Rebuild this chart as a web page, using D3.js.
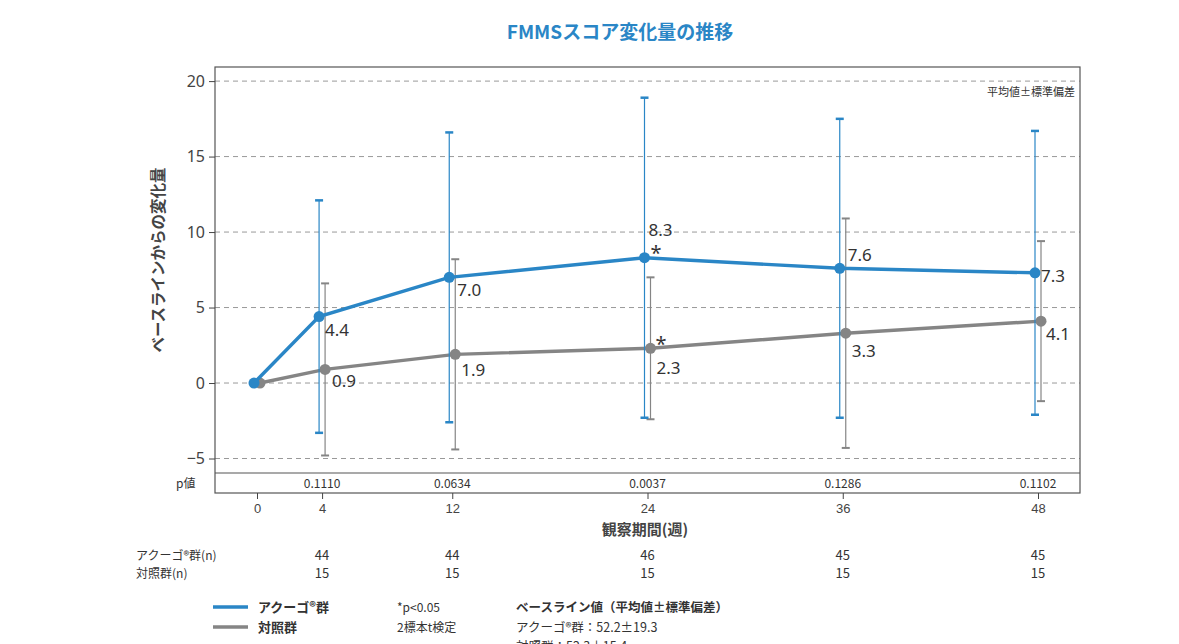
<!DOCTYPE html>
<html>
<head>
<meta charset="utf-8">
<script src="https://cdn.jsdelivr.net/npm/d3@7"></script>
<style>
  html, body { margin: 0; padding: 0; background: #fff; }
  svg { display: block; font-family: "Noto Sans CJK JP", "Noto Sans", sans-serif; }
</style>
</head>
<body>
<svg id="chart" width="1179" height="644"></svg>
<script>
// ---- data ----
const weeks = [0, 4, 12, 24, 36, 48];
const treatMean = [0, 4.4, 7.0, 8.3, 7.6, 7.3];
const treatSD   = [0, 7.7, 9.6, 10.6, 9.9, 9.4];
const ctrlMean  = [0, 0.9, 1.9, 2.3, 3.3, 4.1];
const ctrlSD    = [0, 5.7, 6.3, 4.7, 7.6, 5.3];
const pValues   = ["", "0.1110", "0.0634", "0.0037", "0.1286", "0.1102"];
const treatN    = ["", "44", "44", "46", "45", "45"];
const ctrlN     = ["", "15", "15", "15", "15", "15"];
const treatStar = [false, false, false, true, false, false];
const ctrlStar  = [false, false, false, true, false, false];
const yTicks    = [-5, 0, 5, 10, 15, 20];
const xTicks    = [0, 4, 12, 24, 36, 48];

const BLUE = "#2a86c6", GRAY = "#858585", TXT = "#333";

const svg = d3.select("#chart");
const box = {left: 215, right: 1080, top: 67, bottom: 473, pBottom: 493};

const x = d3.scaleLinear().domain([0, 48]).range([257, 1038]);
const y = d3.scaleLinear().domain([-6, 21]).range([473.6, 66]);
const off = {treat: -3, ctrl: 3};

// title
svg.append("text").attr("x", 620).attr("y", 39).attr("text-anchor", "middle")
  .attr("font-size", 19).attr("font-weight", "bold").attr("fill", "#2a86c6")
  .text("FMMSスコア変化量の推移");

// gridlines
svg.append("g").selectAll("line").data(yTicks).join("line")
  .attr("x1", box.left).attr("x2", box.right)
  .attr("y1", d => y(d)).attr("y2", d => y(d))
  .attr("stroke", "#999").attr("stroke-width", 1).attr("stroke-dasharray", "5,4");

// frame
svg.append("rect").attr("x", box.left).attr("y", box.top)
  .attr("width", box.right - box.left).attr("height", box.pBottom - box.top)
  .attr("fill", "none").attr("stroke", "#555").attr("stroke-width", 1.2);
svg.append("line").attr("x1", box.left).attr("x2", box.right)
  .attr("y1", box.bottom).attr("y2", box.bottom).attr("stroke", "#555").attr("stroke-width", 1.2);

// y axis
const yAxis = d3.axisLeft(y).tickValues(yTicks).tickSize(6).tickPadding(4);
const yg = svg.append("g").attr("transform", `translate(${box.left},0)`).call(yAxis);
yg.select(".domain").remove();
yg.selectAll("line").attr("stroke", "#444");
yg.selectAll("text").attr("font-size", 16).attr("fill", "#444").attr("font-family", "'Noto Sans', sans-serif");

// y label
svg.append("text").attr("transform", "translate(164,260) rotate(-90)")
  .attr("text-anchor", "middle").attr("font-size", 15.5).attr("font-weight", "bold").attr("fill", "#444")
  .text("ベースラインからの変化量");

// note
svg.append("text").attr("x", 1075).attr("y", 96).attr("text-anchor", "end")
  .attr("font-size", 11).attr("fill", "#333").text("平均値±標準偏差");

// x axis
const xAxis = d3.axisBottom(x).tickValues(xTicks).tickSize(6).tickPadding(5);
const xg = svg.append("g").attr("transform", `translate(0,${box.pBottom})`).call(xAxis);
xg.select(".domain").remove();
xg.selectAll("line").attr("stroke", "#444");
xg.selectAll("text").attr("font-size", 13).attr("fill", "#444");

svg.append("text").attr("x", 645).attr("y", 535).attr("text-anchor", "middle")
  .attr("font-size", 15).attr("font-weight", "bold").attr("fill", "#444").text("観察期間(週)");

// p-value row
svg.append("text").attr("x", 176).attr("y", 488).attr("text-anchor", "start")
  .attr("font-size", 12).attr("fill", "#333").text("p値");
svg.append("g").selectAll("text").data(weeks.map((w, i) => ({w, p: pValues[i]})).filter(d => d.p))
  .join("text").attr("x", d => x(d.w)).attr("y", 488).attr("text-anchor", "middle")
  .attr("font-size", 12).attr("fill", "#333").text(d => d.p);

// n rows
svg.append("text").attr("x", 136).attr("y", 560).attr("font-size", 12).attr("fill", "#333").text("アクーゴ®群(n)");
svg.append("text").attr("x", 136).attr("y", 578).attr("font-size", 12).attr("fill", "#333").text("対照群(n)");
svg.append("g").selectAll("text").data(weeks.map((w, i) => ({w, n: treatN[i]})).filter(d => d.n))
  .join("text").attr("x", d => x(d.w)).attr("y", 560).attr("text-anchor", "middle")
  .attr("font-size", 13).attr("fill", "#333").text(d => d.n);
svg.append("g").selectAll("text").data(weeks.map((w, i) => ({w, n: ctrlN[i]})).filter(d => d.n))
  .join("text").attr("x", d => x(d.w)).attr("y", 578).attr("text-anchor", "middle")
  .attr("font-size", 13).attr("fill", "#333").text(d => d.n);

// series
function drawSeries(mean, sd, color, dx, barW) {
  const pts = weeks.map((w, i) => ({w, m: mean[i], s: sd[i]}));
  const g = svg.append("g");
  const eb = pts.filter(d => d.s > 0);
  g.selectAll("line.eb").data(eb).join("line")
    .attr("x1", d => x(d.w) + dx).attr("x2", d => x(d.w) + dx)
    .attr("y1", d => y(d.m + d.s)).attr("y2", d => y(d.m - d.s))
    .attr("stroke", color).attr("stroke-width", 1.2);
  [1, -1].forEach(sgn => {
    g.selectAll(null).data(eb).join("line")
      .attr("x1", d => x(d.w) + dx - 4).attr("x2", d => x(d.w) + dx + 4)
      .attr("y1", d => y(d.m + sgn * d.s)).attr("y2", d => y(d.m + sgn * d.s))
      .attr("stroke", color).attr("stroke-width", barW);
  });
  g.append("path").datum(pts)
    .attr("d", d3.line().x(d => x(d.w) + dx).y(d => y(d.m)))
    .attr("fill", "none").attr("stroke", color).attr("stroke-width", 3.4);
  g.selectAll("circle").data(pts).join("circle")
    .attr("cx", d => x(d.w) + dx).attr("cy", d => y(d.m)).attr("r", 5.5).attr("fill", color);
  return pts;
}
const ctrlPts = drawSeries(ctrlMean, ctrlSD, GRAY, off.ctrl, 2);
const treatPts = drawSeries(treatMean, treatSD, BLUE, off.treat, 2.5);

// value labels
const lab = svg.append("g").attr("font-size", 17).attr("fill", TXT).attr("font-family", "'Noto Sans', sans-serif");
const treatLabOff = [null, [6, 19], [8, 19], [4, -22], [8, -7], [6, 9]];
treatPts.forEach((d, i) => {
  if (!treatLabOff[i]) return;
  lab.append("text").attr("x", x(d.w) + off.treat + treatLabOff[i][0])
    .attr("y", y(d.m) + treatLabOff[i][1]).text(d.m.toFixed(1));
  if (treatStar[i]) lab.append("text").attr("x", x(d.w) + off.treat + 6).attr("y", y(d.m) + 2)
    .attr("font-size", 20).text("*");
});
const ctrlLabOff = [null, [7, 18], [6, 22], [6, 26], [6, 24], [5, 19]];
ctrlPts.forEach((d, i) => {
  if (!ctrlLabOff[i]) return;
  lab.append("text").attr("x", x(d.w) + off.ctrl + ctrlLabOff[i][0])
    .attr("y", y(d.m) + ctrlLabOff[i][1]).text(d.m.toFixed(1));
  if (ctrlStar[i]) lab.append("text").attr("x", x(d.w) + off.ctrl + 5).attr("y", y(d.m) + 3)
    .attr("font-size", 20).text("*");
});

// legend
const lg = svg.append("g");
lg.append("line").attr("x1", 213).attr("x2", 248).attr("y1", 607).attr("y2", 607).attr("stroke", BLUE).attr("stroke-width", 3.5);
lg.append("line").attr("x1", 213).attr("x2", 248).attr("y1", 627).attr("y2", 627).attr("stroke", GRAY).attr("stroke-width", 3.5);
lg.append("text").attr("x", 258).attr("y", 612).attr("font-size", 13).attr("font-weight", "bold").attr("fill", "#333").text("アクーゴ®群");
lg.append("text").attr("x", 258).attr("y", 632).attr("font-size", 13).attr("font-weight", "bold").attr("fill", "#333").text("対照群");
lg.append("text").attr("x", 397).attr("y", 612).attr("font-size", 12).attr("fill", "#333").text("*p<0.05");
lg.append("text").attr("x", 397).attr("y", 632).attr("font-size", 12).attr("fill", "#333").text("2標本t検定");
lg.append("text").attr("x", 516).attr("y", 612).attr("font-size", 12.5).attr("font-weight", "bold").attr("fill", "#333").text("ベースライン値（平均値±標準偏差）");
lg.append("text").attr("x", 516).attr("y", 632).attr("font-size", 12.5).attr("fill", "#333").text("アクーゴ®群：52.2±19.3");
lg.append("text").attr("x", 516).attr("y", 651).attr("font-size", 12.5).attr("fill", "#333").text("対照群：52.3±15.4");
</script>
</body>
</html>
